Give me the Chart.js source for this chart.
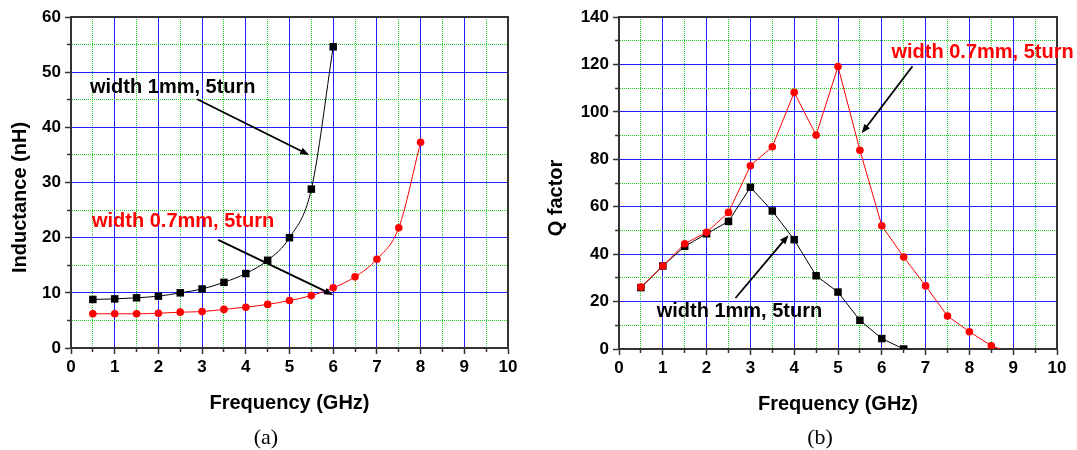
<!DOCTYPE html>
<html>
<head>
<meta charset="utf-8">
<script src="https://cdn.jsdelivr.net/npm/chart.js@4/dist/chart.umd.min.js"></script>
<style>
  body { margin: 0; background: #fff; }
  #page { position: relative; width: 1077px; height: 450px; overflow: hidden; }
  #chartA { position: absolute; left: 0; top: 0; }
  #chartB { position: absolute; left: 540px; top: 0; }
  .cap { position: absolute; top: 424px; width: 60px; text-align: center;
         font-family: "Liberation Serif", serif; font-size: 22px; color: #000; }
</style>
</head>
<body>
<div id="page">
  <canvas id="chartA" width="540" height="450"></canvas>
  <canvas id="chartB" width="537" height="450"></canvas>
  <div class="cap" style="left:236px">(a)</div>
  <div class="cap" style="left:790px">(b)</div>
</div>
<script>
// frequency points (GHz)
const freq = [0.5, 1, 1.5, 2, 2.5, 3, 3.5, 4, 4.5, 5, 5.5, 6, 6.5, 7, 7.5, 8, 8.5, 9];

// (a) inductance, nH
const indWide = [8.8, 8.9, 9.1, 9.4, 10.0, 10.7, 11.9, 13.5, 15.9, 20.0, 28.8, 54.6];
const indNarrow = [6.2, 6.2, 6.2, 6.3, 6.5, 6.6, 7.0, 7.4, 7.9, 8.6, 9.5, 10.9, 12.9, 16.1, 21.8, 37.3];

// (b) Q factor
const qWide = [25.9, 35.0, 43.3, 48.6, 53.8, 68.2, 58.2, 46.1, 30.9, 24.0, 12.1, 4.4, 0];
const qNarrow = [26.1, 35.0, 44.4, 49.2, 57.6, 77.3, 85.3, 108.2, 90.2, 119.1, 83.8, 52.0, 38.8, 26.6, 13.9, 7.3, 1.4, -2.1];

const labelWide = 'width 1mm, 5turn';
const labelNarrow = 'width 0.7mm, 5turn';

const BLUE = '#1f1fff';
const GREEN = '#22d022';
const AXIS = '#333';
const FONT = '"Liberation Sans", Arial, sans-serif';

const pts = vals => vals.map((v, i) => ({ x: freq[i], y: v }));
const isMult = (v, m) => Math.abs(v / m - Math.round(v / m)) < 1e-6;
const isMinor = (c, m) => !!c.tick && !isMult(c.tick.value, m);

function axis(max, step, major, isX, size) {
  return {
    type: 'linear',
    min: 0,
    max: max,
    afterFit: s => { if (isX) s.height = size; else s.width = size; },
    ticks: {
      stepSize: step,
      autoSkip: false,
      maxRotation: 0,
      padding: isX ? 3 : 4,
      color: '#000',
      font: { family: FONT, size: 17, weight: 'bold' },
      callback: v => isMult(v, major) ? String(v) : ''
    },
    grid: {
      color: c => isMinor(c, major) ? GREEN : BLUE,
      lineWidth: 1,
      tickLength: 6,
      tickWidth: 1.5,
      tickColor: AXIS,
      tickBorderDash: c => isMinor(c, major) ? (isX ? [3, 20] : [3, 2]) : [],
      tickBorderDashOffset: c => isMinor(c, major) && !isX ? 3 : 0
    },
    border: {
      color: AXIS,
      width: 2,
      dash: c => isMinor(c, major) ? [1, 1] : []
    }
  };
}

function drawArrow(ctx, x1, y1, x2, y2) {
  const a = Math.atan2(y2 - y1, x2 - x1), len = 9, half = 3.5;
  ctx.strokeStyle = '#000';
  ctx.lineWidth = 1.8;
  ctx.beginPath();
  ctx.moveTo(x1, y1);
  ctx.lineTo(x2 - Math.cos(a) * len * 0.8, y2 - Math.sin(a) * len * 0.8);
  ctx.stroke();
  ctx.fillStyle = '#000';
  ctx.beginPath();
  ctx.moveTo(x2, y2);
  ctx.lineTo(x2 - len * Math.cos(a) + half * Math.sin(a), y2 - len * Math.sin(a) - half * Math.cos(a));
  ctx.lineTo(x2 - len * Math.cos(a) - half * Math.sin(a), y2 - len * Math.sin(a) + half * Math.cos(a));
  ctx.closePath();
  ctx.fill();
}

function decor(cfg) {
  return {
    id: 'decor',
    afterDraw(chart) {
      const { ctx, chartArea: a, scales: { x, y } } = chart;
      ctx.save();
      // top / right frame
      ctx.strokeStyle = AXIS;
      ctx.lineWidth = 2;
      ctx.beginPath();
      ctx.moveTo(a.left, a.top);
      ctx.lineTo(a.right, a.top);
      ctx.lineTo(a.right, a.bottom);
      ctx.stroke();

      ctx.fillStyle = '#000';
      ctx.font = 'bold 20px ' + FONT;
      ctx.textAlign = 'center';
      ctx.textBaseline = 'middle';
      ctx.fillText('Frequency (GHz)', (a.left + a.right) / 2, a.bottom + 55);
      ctx.save();
      ctx.translate(cfg.yTitleX, (a.top + a.bottom) / 2 + 15);
      ctx.rotate(-Math.PI / 2);
      ctx.fillText(cfg.yTitle, 0, 0);
      ctx.restore();

      ctx.textAlign = 'left';
      cfg.notes.forEach(n => {
        ctx.fillStyle = n.color;
        ctx.fillText(n.text, x.getPixelForValue(n.tx), y.getPixelForValue(n.ty));
        drawArrow(ctx,
          x.getPixelForValue(n.from[0]), y.getPixelForValue(n.from[1]),
          x.getPixelForValue(n.to[0]), y.getPixelForValue(n.to[1]));
      });
      ctx.restore();
    }
  };
}

function series(label, vals, color, style, radius, smooth) {
  return {
    label: label,
    data: pts(vals),
    borderColor: color,
    backgroundColor: color,
    borderWidth: 1,
    pointStyle: style,
    pointRadius: radius,
    pointBorderWidth: 0,
    pointBackgroundColor: color,
    cubicInterpolationMode: smooth ? 'monotone' : 'default',
    tension: 0
  };
}

function makeChart(id, datasets, yMax, yStep, yMajor, yWidth, xHeight, padRight, plugin) {
  return new Chart(document.getElementById(id), {
    type: 'line',
    data: { datasets: datasets },
    options: {
      responsive: false,
      animation: false,
      devicePixelRatio: 1,
      layout: { padding: { top: 17, right: padRight, bottom: 0, left: 0 } },
      plugins: { legend: { display: false }, tooltip: { enabled: false } },
      scales: {
        x: axis(10, 0.5, 1, true, xHeight),
        y: axis(yMax, yStep, yMajor, false, yWidth)
      }
    },
    plugins: [plugin]
  });
}

makeChart('chartA', [
  series(labelNarrow, indNarrow, '#ff0000', 'circle', 3.8, true),
  series(labelWide, indWide, '#000000', 'rect', 5.3, true)
], 60, 5, 10, 71, 102, 32, decor({
  yTitle: 'Inductance (nH)',
  yTitleX: 20,
  notes: [
    { text: labelWide, color: '#000', tx: 0.435, ty: 47.3, from: [2.89, 45.1], to: [5.45, 35.0] },
    { text: labelNarrow, color: '#ff0000', tx: 0.48, ty: 23.0, from: [3.37, 19.6], to: [6.0, 9.6] }
  ]
}));

makeChart('chartB', [
  series(labelNarrow, qNarrow, '#ff0000', 'circle', 3.8, false),
  series(labelWide, qWide, '#000000', 'rect', 5.3, false)
], 140, 10, 20, 79, 101, 20, decor({
  yTitle: 'Q factor',
  yTitleX: 16,
  notes: [
    { text: labelNarrow, color: '#ff0000', tx: 6.22, ty: 125.1, from: [6.70, 119.2], to: [5.54, 91] },
    { text: labelWide, color: '#000', tx: 0.86, ty: 16.0, from: [2.66, 21.5], to: [3.87, 48] }
  ]
}));
</script>
</body>
</html>
